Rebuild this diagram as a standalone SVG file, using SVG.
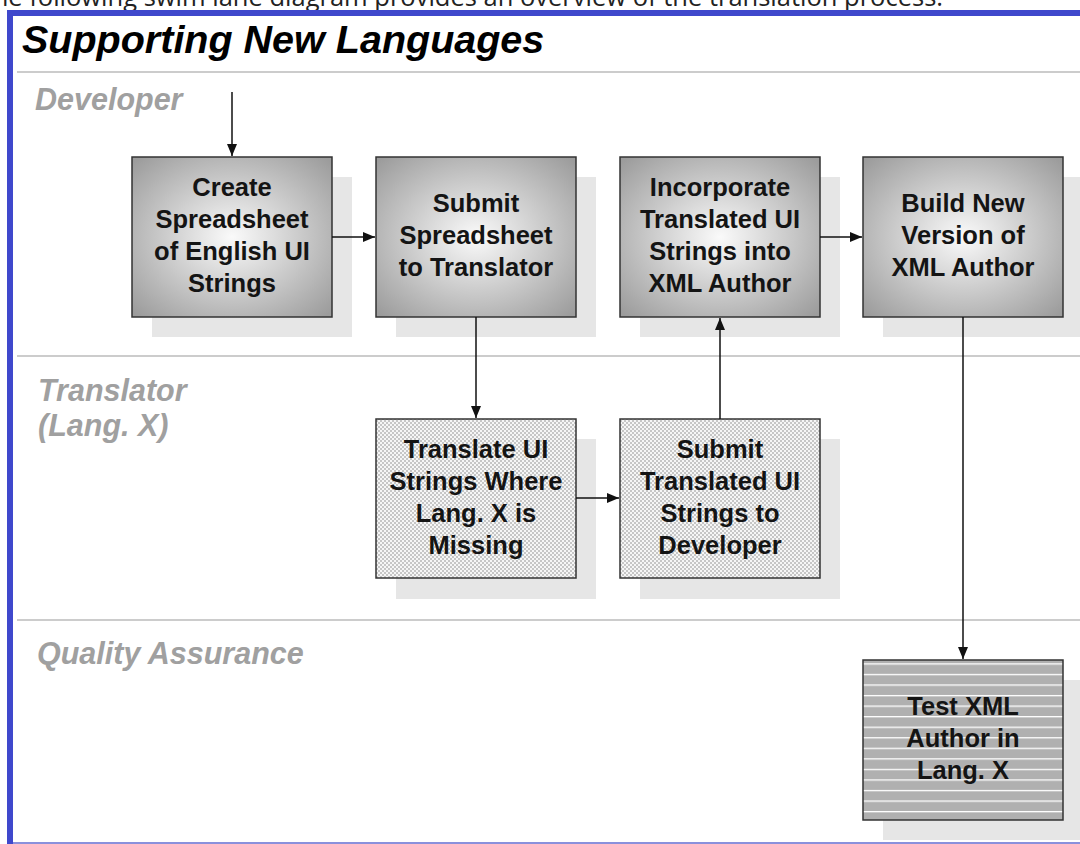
<svg xmlns="http://www.w3.org/2000/svg" width="1080" height="844" viewBox="0 0 1080 844">
<style>
.node-text{font-family:"Liberation Sans",Arial,sans-serif;font-weight:bold;font-size:25.5px;fill:#141414;text-anchor:middle}
.lane-label{font-family:"Liberation Sans",Arial,sans-serif;font-weight:bold;font-style:italic;font-size:30.5px;fill:#a0a0a0}
.box{stroke:#333;stroke-width:1.5}
.shadow{fill:#e6e6e6}
.lane-line{stroke:#cccccc;stroke-width:2}
.conn{stroke:#111;stroke-width:1.5;fill:none}
</style>
<defs>
<radialGradient id="grad" cx="50%" cy="50%" r="68%">
<stop offset="0" stop-color="#fafafa"/>
<stop offset="1" stop-color="#9c9c9c"/>
</radialGradient>
<pattern id="checker" patternUnits="userSpaceOnUse" x="0" y="0" width="4" height="4">
<rect width="4" height="4" fill="#f6f6f6"/>
<rect width="2" height="2" fill="#c6c6c6"/>
<rect x="2" y="2" width="2" height="2" fill="#c6c6c6"/>
</pattern>
<pattern id="stripes" patternUnits="userSpaceOnUse" x="0" y="9.2" width="20" height="10.55">
<rect width="20" height="10.55" fill="#b0b0b0"/>
<rect width="20" height="1.3" fill="#ffffff"/>
</pattern>
<marker id="arrow" viewBox="0 0 12 10" refX="12" refY="5" markerWidth="12" markerHeight="10" markerUnits="userSpaceOnUse" orient="auto">
<path d="M0,0 L12,5 L0,10 z" fill="#111"/>
</marker>
</defs>
<rect width="1080" height="844" fill="#ffffff"/>
<text x="943" y="6" font-family="'Open Sans','Liberation Sans',sans-serif" font-size="25.5" fill="#222" text-anchor="end">The following swim lane diagram provides an overview of the translation process.</text>
<g id="frame">
<rect x="7" y="10" width="1073" height="6" fill="#3f48cc"/>
<rect x="7" y="10" width="6" height="834" fill="#3f48cc"/>
<rect x="13" y="842" width="1067" height="2" fill="#8a90dc"/>
</g>
<text x="22" y="53" font-family="'Liberation Sans',Arial,sans-serif" font-weight="bold" font-style="italic" font-size="39.5" fill="#000">Supporting New Languages</text>
<g id="lanes">
<line class="lane-line" x1="17" y1="72" x2="1080" y2="72"/>
<line class="lane-line" x1="17" y1="356" x2="1080" y2="356"/>
<line class="lane-line" x1="17" y1="620" x2="1080" y2="620"/>
<text class="lane-label" x="35" y="110">Developer</text>
<text class="lane-label" x="38" y="401">Translator</text>
<text class="lane-label" x="38" y="436">(Lang. X)</text>
<text class="lane-label" x="37" y="664">Quality Assurance</text>
</g>
<g id="node-create">
<rect class="shadow" x="152" y="177" width="200" height="160"/>
<rect class="box" x="132" y="157" width="200" height="160" fill="url(#grad)"/>
<text class="node-text" x="232" y="196">Create</text>
<text class="node-text" x="232" y="228">Spreadsheet</text>
<text class="node-text" x="232" y="260">of English UI</text>
<text class="node-text" x="232" y="292">Strings</text>
</g>
<g id="node-submit-spreadsheet">
<rect class="shadow" x="396" y="177" width="200" height="160"/>
<rect class="box" x="376" y="157" width="200" height="160" fill="url(#grad)"/>
<text class="node-text" x="476" y="212">Submit</text>
<text class="node-text" x="476" y="244">Spreadsheet</text>
<text class="node-text" x="476" y="276">to Translator</text>
</g>
<g id="node-incorporate">
<rect class="shadow" x="640" y="177" width="200" height="160"/>
<rect class="box" x="620" y="157" width="200" height="160" fill="url(#grad)"/>
<text class="node-text" x="720" y="196">Incorporate</text>
<text class="node-text" x="720" y="228">Translated UI</text>
<text class="node-text" x="720" y="260">Strings into</text>
<text class="node-text" x="720" y="292">XML Author</text>
</g>
<g id="node-build">
<rect class="shadow" x="883" y="177" width="200" height="160"/>
<rect class="box" x="863" y="157" width="200" height="160" fill="url(#grad)"/>
<text class="node-text" x="963" y="212">Build New</text>
<text class="node-text" x="963" y="244">Version of</text>
<text class="node-text" x="963" y="276">XML Author</text>
</g>
<g id="node-translate">
<rect class="shadow" x="396" y="439" width="200" height="160"/>
<rect class="box" x="376" y="419" width="200" height="159" fill="url(#checker)"/>
<text class="node-text" x="476" y="458">Translate UI</text>
<text class="node-text" x="476" y="490">Strings Where</text>
<text class="node-text" x="476" y="522">Lang. X is</text>
<text class="node-text" x="476" y="554">Missing</text>
</g>
<g id="node-submit-translated">
<rect class="shadow" x="640" y="439" width="200" height="160"/>
<rect class="box" x="620" y="419" width="200" height="159" fill="url(#checker)"/>
<text class="node-text" x="720" y="458">Submit</text>
<text class="node-text" x="720" y="490">Translated UI</text>
<text class="node-text" x="720" y="522">Strings to</text>
<text class="node-text" x="720" y="554">Developer</text>
</g>
<g id="node-test">
<rect class="shadow" x="883" y="680" width="200" height="160"/>
<rect class="box" x="863" y="660" width="200" height="160" fill="url(#stripes)"/>
<text class="node-text" x="963" y="715">Test XML</text>
<text class="node-text" x="963" y="747">Author in</text>
<text class="node-text" x="963" y="779">Lang. X</text>
</g>
<g id="connectors">
<line class="conn" x1="232" y1="92" x2="232" y2="156" marker-end="url(#arrow)"/>
<line class="conn" x1="332" y1="237" x2="375" y2="237" marker-end="url(#arrow)"/>
<line class="conn" x1="476" y1="317" x2="476" y2="418" marker-end="url(#arrow)"/>
<line class="conn" x1="576" y1="498" x2="619" y2="498" marker-end="url(#arrow)"/>
<line class="conn" x1="720" y1="419" x2="720" y2="318" marker-end="url(#arrow)"/>
<line class="conn" x1="820" y1="237" x2="862" y2="237" marker-end="url(#arrow)"/>
<line class="conn" x1="963" y1="317" x2="963" y2="659" marker-end="url(#arrow)"/>
</g>
</svg>
